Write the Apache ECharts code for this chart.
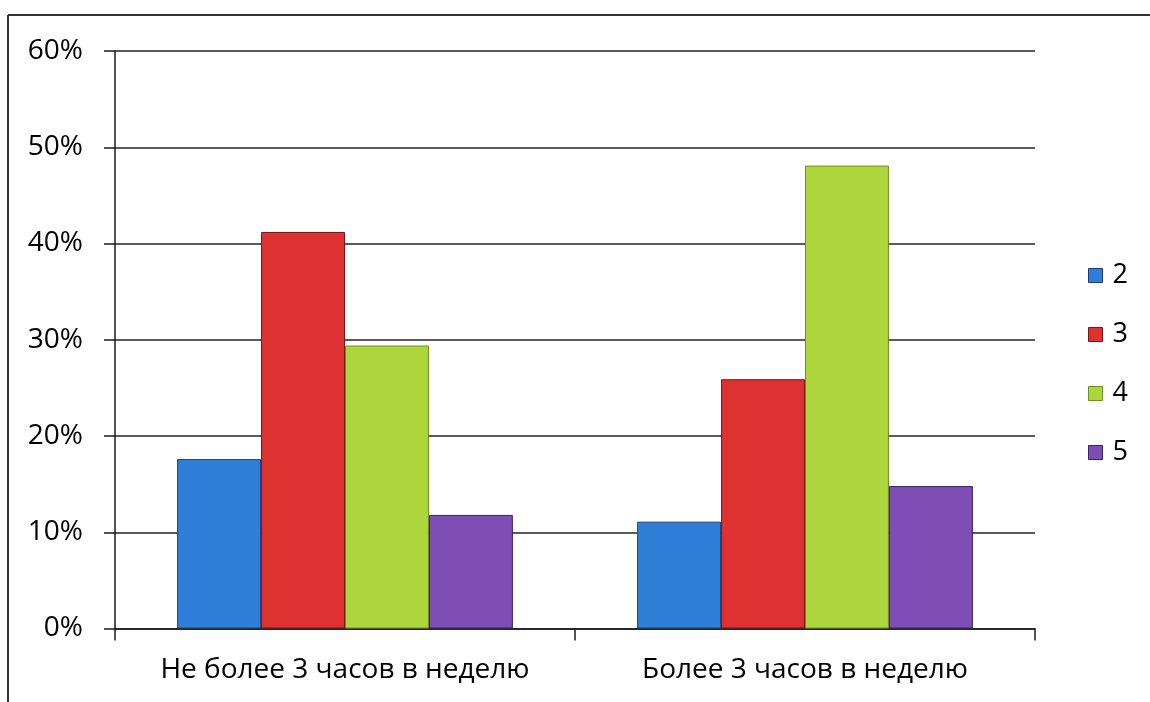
<!DOCTYPE html>
<html>
<head>
<meta charset="utf-8">
<script src="https://cdn.jsdelivr.net/npm/echarts@6/dist/echarts.min.js"></script>
<style>
  html, body { margin: 0; padding: 0; background: #fff; }
  #chart { width: 1150px; height: 702px; }
</style>
</head>
<body>
<div id="chart"></div>
<script>
// Groups on the category axis
const categories = ['Не более 3 часов в неделю', 'Более 3 часов в неделю'];
// Series (grade) names
const seriesNames = ['2', '3', '4', '5'];
// Share of each grade in each group, %
const grade2 = [17.6, 11.1];
const grade3 = [41.2, 25.9];
const grade4 = [29.4, 48.1];
const grade5 = [11.8, 14.8];
// Y-axis ticks, %
const yTicks = [0, 10, 20, 30, 40, 50, 60];

const seriesValues = [grade2, grade3, grade4, grade5];
const fills = ['#2f7fd8', '#de3131', '#acd63b', '#7e4db6'];
const edges = ['#1d3f78', '#7a1515', '#6f8f22', '#3a2266'];
const FONT = 'Open Sans';
const TEXT = '#000';

const chart = echarts.init(document.getElementById('chart'), null, { renderer: 'canvas' });

chart.setOption({
  backgroundColor: '#ffffff',
  animation: false,
  textStyle: { fontFamily: FONT },
  grid: { left: 115, right: 115, top: 51, bottom: 73.5, containLabel: false },
  legend: {
    orient: 'vertical',
    left: 1088,
    top: 262,
    padding: 0,
    itemWidth: 14,
    itemHeight: 14,
    itemGap: 32,
    icon: 'rect',
    data: seriesNames.map((n, i) => ({ name: n, itemStyle: { color: fills[i], borderColor: edges[i], borderWidth: 1 } })),
    textStyle: { fontFamily: FONT, fontSize: 27, color: TEXT, lineHeight: 27, padding: [0, 0, 0, 5] }
  },
  xAxis: {
    type: 'category',
    data: categories,
    axisLine: { lineStyle: { color: '#1a1a1a', width: 1.5 } },
    axisTick: { show: true, interval: 0, length: 12, lineStyle: { color: '#1a1a1a', width: 1.5 } },
    axisLabel: { interval: 0, hideOverlap: false, fontFamily: FONT, fontSize: 28, color: TEXT, margin: 28 }
  },
  yAxis: {
    type: 'value',
    min: yTicks[0],
    max: yTicks[yTicks.length - 1],
    interval: yTicks[1] - yTicks[0],
    axisLine: { show: true, lineStyle: { color: '#1a1a1a', width: 1.5 } },
    axisTick: { show: true, length: 11, lineStyle: { color: '#1a1a1a', width: 1.5 } },
    axisLabel: { fontFamily: FONT, fontSize: 28, color: TEXT, margin: 32, formatter: v => v + '%' },
    splitLine: { show: true, lineStyle: { color: '#222', width: 1.5 } }
  },
  series: seriesNames.map((n, i) => ({
    name: n,
    type: 'bar',
    data: seriesValues[i],
    barGap: '0%',
    barCategoryGap: '27%',
    itemStyle: { color: fills[i], borderColor: edges[i], borderWidth: 1 }
  })),
  graphic: [
    // outer frame: top and left edges
    { type: 'line', shape: { x1: 8, y1: 15, x2: 1150, y2: 15 }, style: { stroke: '#333', lineWidth: 2 } },
    { type: 'line', shape: { x1: 8, y1: 15, x2: 8, y2: 702 }, style: { stroke: '#333', lineWidth: 2 } }
  ]
});
</script>
</body>
</html>
